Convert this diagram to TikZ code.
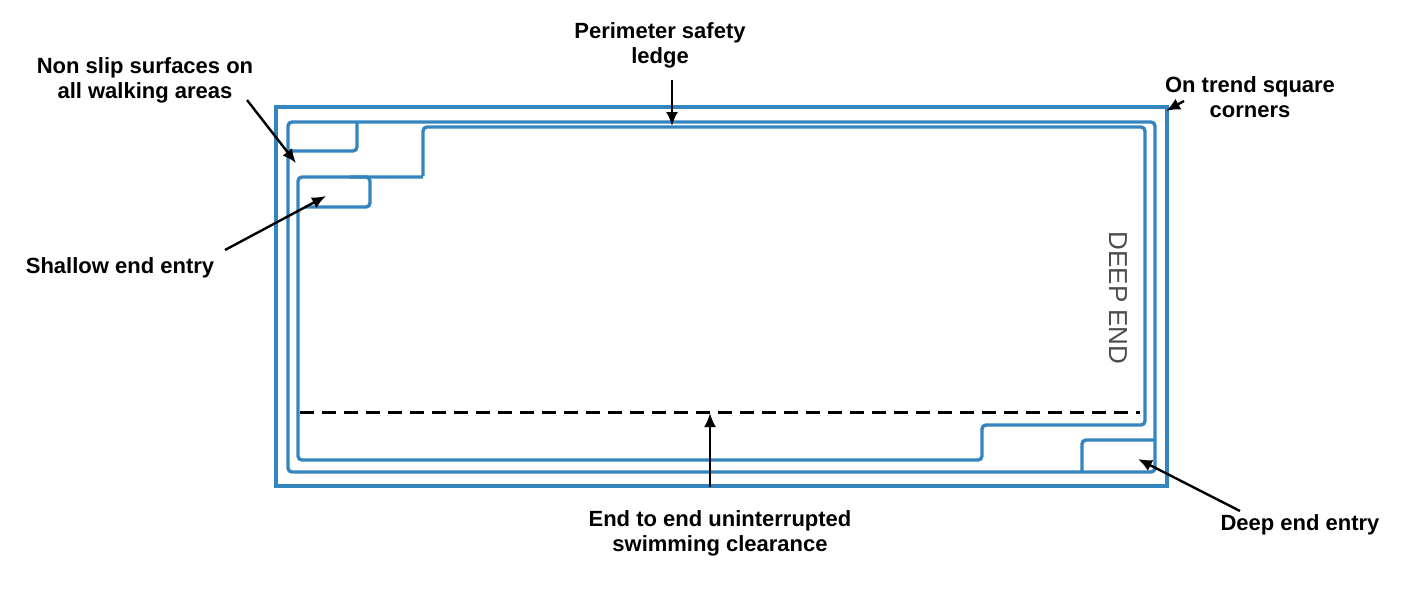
\documentclass[tikz,border=0pt]{standalone}
\usepackage{fontspec}
\setmainfont{Liberation Sans}
\usetikzlibrary{positioning}
\definecolor{poolblue}{RGB}{52,132,192}
\tikzset{
  wall/.style={draw=poolblue, line width=1.7pt, rounded corners=2pt},
  lbl/.style={align=center, font=\fontsize{11}{12.5}\selectfont\bfseries},
  ptr/.style={-{Latex[length=7pt,width=6pt]}, line width=1.2pt}
}
\usetikzlibrary{arrows.meta}
\begin{document}
\begin{tikzpicture}[x=0.5pt, y=-0.5pt]
        \useasboundingbox (0,0) rectangle (1417,600);
        % pool shell
        \draw[wall, rounded corners=0pt] (276,107) rectangle (1167,486);
        \draw[wall] (288,122) rectangle (1155,472);
        \draw[wall] (288,151) -- (357,151) -- (357,122);
        \draw[wall] (423,176) -- (423,127) -- (1145,127) -- (1145,425) -- (982,425) -- (982,460) -- (298,460) -- (298,177) -- (423,177);
        \draw[wall] (350,177) -- (370,177) -- (370,207) -- (305,207);
        \draw[wall] (1082,472) -- (1082,440) -- (1155,440);
        \draw[line width=1.5pt, dash pattern=on 7pt off 4pt] (300,412) -- (1140,412);
        \node[rotate=-90, text=black!70, font=\fontsize{13}{15}\selectfont] (deep) at (1118,298) {DEEP END};

        % labels
        \node[lbl] (nonslip) at (145,80) {Non slip surfaces on\\all walking areas};
        \node[lbl] (ledge) at (660,45) {Perimeter safety\\ledge};
        \node[lbl] (corners) at (1250,97) {On trend square\\corners};
        \node[lbl] (shallow) at (120,268) {Shallow end entry};
        \node[lbl] (clear) at (720,533) {End to end uninterrupted\\swimming clearance};
        \node[lbl] (deepentry) at (1300,525) {Deep end entry};

        \coordinate (nonslip_tip) at (296,163);
        \coordinate (ledge_tip) at (672,126);
        \coordinate (corners_tip) at (1166,111);
        \coordinate (shallow_tip) at (326,196);
        \coordinate (clear_tip) at (710,413);
        \coordinate (deepentry_tip) at (1138,459);

        \draw[ptr] (247,100) -- (nonslip_tip);
        \draw[ptr] (672,80) -- (ledge_tip);
        \draw[ptr] (1184,101) -- (corners_tip);
        \draw[ptr] (225,250) -- (shallow_tip);
        \draw[ptr] (710,487) -- (clear_tip);
        \draw[ptr] (1240,511) -- (deepentry_tip);
\end{tikzpicture}
\end{document}
